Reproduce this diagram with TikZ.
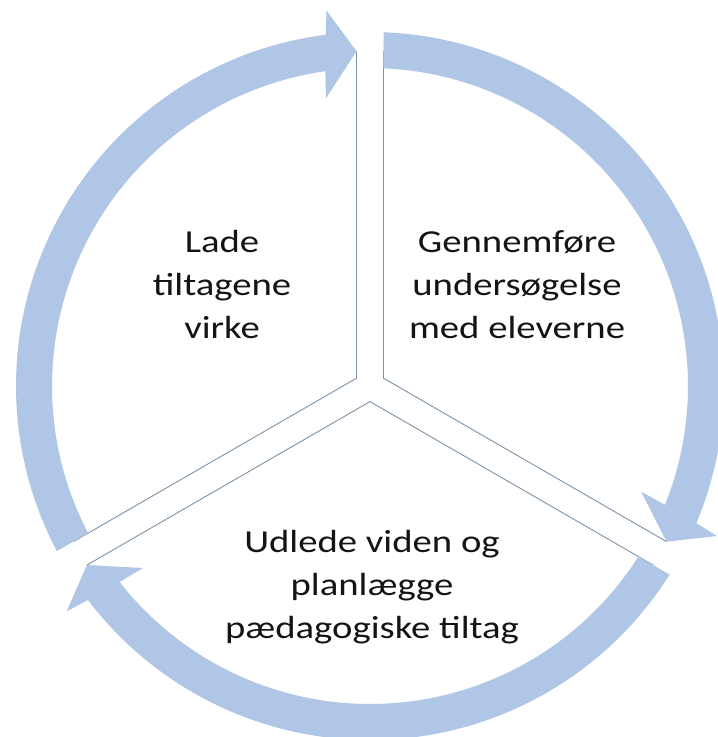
\documentclass[tikz,border=0pt]{standalone}
\usepackage{fontspec}
\setmainfont{Carlito}
\definecolor{bandblue}{RGB}{176,198,230}
\definecolor{sectline}{RGB}{125,145,168}
\definecolor{txt}{RGB}{20,20,20}
\tikzset{
  band/.style={fill=bandblue, draw=none},
  sector/.style={draw=sectline, line width=0.9pt, line join=miter},
  label/.style={anchor=base, inner sep=0pt, text=txt}
}
\newcommand{\blocktext}[1]{\fontsize{32}{43}\selectfont\scalebox{1.21}[1]{\begin{tabular}[t]{@{}c@{}}#1\end{tabular}}}
\begin{document}
\begin{tikzpicture}[x=1pt,y=1pt]
\useasboundingbox (0,0) rectangle (718,737);
\clip (0,0) rectangle (718,737);
\fill[white] (0,0) rectangle (718,737);
\begin{scope}[shift={(370,351)}]
  % sector boundary lines
  \draw[sector] (92.31:335pt) -- (150:15.59pt) -- (207.69:335pt);
  \draw[sector] (87.69:335pt) -- (30:15.59pt) -- (-27.69:335pt);
  \draw[sector] (-32.31:335pt) -- (270:15.59pt) -- (212.31:335pt);
  % arrow 1 (left, pointing to top)
  \path[band] (207.57:318pt) arc[start angle=207.57, end angle=98.06, radius=318pt]
     -- (98.71:291pt) -- (92.31:335pt) -- (96.61:378pt) -- (97.19:354pt)
     arc[start angle=97.19, end angle=207.81, radius=354pt] -- cycle;
  % arrow 2 (right, pointing to lower right)
  \path[band] (87.57:318pt) arc[start angle=87.57, end angle=-21.94, radius=318pt]
     -- (-21.29:291pt) -- (-27.69:335pt) -- (-23.39:378pt) -- (-22.81:354pt)
     arc[start angle=-22.81, end angle=87.81, radius=354pt] -- cycle;
  % arrow 3 (bottom, pointing to lower left)
  \path[band] (327.57:318pt) arc[start angle=327.57, end angle=218.06, radius=318pt]
     -- (218.71:291pt) -- (212.31:335pt) -- (216.61:378pt) -- (217.19:354pt)
     arc[start angle=217.19, end angle=327.81, radius=354pt] -- cycle;
\end{scope}
\node[label] (lade) at (222,484) {\blocktext{Lade\\tiltagene\\virke}};
\node[label] (gennem) at (517,484) {\blocktext{Gennemføre\\undersøgelse\\med eleverne}};
\node[label] (udlede) at (372,184) {\blocktext{Udlede viden og\\planlægge\\pædagogiske tiltag}};
\end{tikzpicture}
\end{document}
